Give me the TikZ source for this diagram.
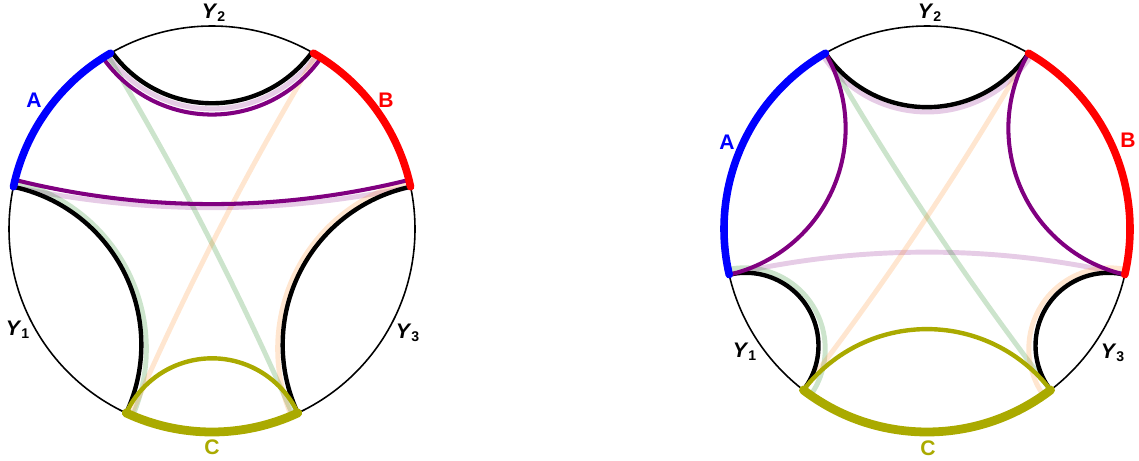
\documentclass[tikz,border=0pt]{standalone}
\usepackage{fontspec}
\setmainfont{Liberation Sans}

\definecolor{olivec}{RGB}{170,170,0}
\definecolor{purplec}{RGB}{128,0,128}
\definecolor{greenc}{RGB}{0,120,0}
\definecolor{orangec}{RGB}{255,130,20}

\def\Rd{4.06cm}
% arc of the disk centred at #2, from boundary angle #3 to #4 (#3<#4), leaving the chord at angle #5
\newcommand{\bgeo}[5][]{\draw[#1, shift={(#2)}] (#3:\Rd) arc[start angle={(#3+#4)/2+180+(#5)}, end angle={(#3+#4)/2+180-(#5)}, radius={\Rd*sin((#4-#3)/2)/sin(#5)}];}
% geodesic: meets the rim at right angles
\newcommand{\geo}[4][]{\bgeo[#1]{#2}{#3}{#4}{90-(#4-#3)/2}}
% boundary arc of the disk
\newcommand{\rimarc}[4][]{\draw[#1, shift={(#2)}] (#3:\Rd) arc[start angle=#3, end angle=#4, radius=\Rd];}

\begin{document}
\begin{tikzpicture}[
    every node/.style={font=\fontsize{12}{14}\selectfont\bfseries},
    rim/.style={line width=0.9pt},
    geod/.style={line width=2.5pt},
    pgeod/.style={line width=2.3pt, purplec},
    faint/.style={line width=2.8pt, draw opacity=0.2},
    thickarc/.style={line width=4.3pt, line cap=round},
]
    \useasboundingbox (0,0) rectangle (22.78,9.2);

    \coordinate (oL) at (4.24,4.62);
    \coordinate (oR) at (18.54,4.62);

    % left disk: faint curves
    \bgeo[faint, purplec]{oL}{59}{121}{54.5}
    \geo[faint, purplec]{oL}{12}{168}
    \geo[faint, greenc]{oL}{166.5}{247}
    \geo[faint, greenc]{oL}{121}{293.5}
    \geo[faint, orangec]{oL}{293}{373.5}
    \geo[faint, orangec]{oL}{246.5}{419}

    % left disk
    \draw[rim] (oL) circle[radius=\Rd];
    \bgeo[geod]{oL}{60.5}{119.5}{54}
    \geo[geod]{oL}{168}{245}
    \geo[geod]{oL}{295}{372}
    \bgeo[pgeod]{oL}{57.5}{122.5}{55}
    \geo[pgeod]{oL}{14}{166}
    \geo[geod, olivec]{oL}{245}{295}
    \rimarc[thickarc, blue]{oL}{120}{168}
    \rimarc[thickarc, red]{oL}{12}{60}
    \rimarc[thickarc, olivec, line width=5pt]{oL}{245}{295}

    \node (y2L) at (4.28,8.94) {\textit{Y}\textsubscript{2}};
    \node[blue] (aL) at (0.68,7.20) {A};
    \node[red] (bL) at (7.72,7.20) {B};
    \node (y1L) at (0.36,2.60) {\textit{Y}\textsubscript{1}};
    \node (y3L) at (8.16,2.54) {\textit{Y}\textsubscript{3}};
    \node[olivec] (cL) at (4.24,0.26) {C};

    % right disk: faint curves
    \bgeo[faint, purplec]{oR}{59}{121}{57.2}
    \geo[faint, purplec]{oR}{193}{347}
    \geo[faint, greenc]{oR}{191.5}{235}
    \geo[faint, greenc]{oR}{307.5}{480}
    \geo[faint, orangec]{oR}{305}{348.5}
    \geo[faint, orangec]{oR}{60}{232.5}

    % right disk
    \draw[rim] (oR) circle[radius=\Rd];
    \bgeo[geod]{oR}{60}{120}{56}
    \geo[geod]{oR}{193}{232.5}
    \geo[geod]{oR}{307.5}{347}
    \geo[pgeod]{oR}{120}{193}
    \geo[pgeod]{oR}{347}{420}
    \geo[geod, olivec]{oR}{232.5}{307.5}
    \rimarc[thickarc, blue]{oR}{120}{193}
    \rimarc[thickarc, red]{oR}{-13}{60}
    \rimarc[thickarc, olivec, line width=5pt]{oR}{232.5}{307.5}

    \node (y2R) at (18.60,8.94) {\textit{Y}\textsubscript{2}};
    \node[blue] (aR) at (14.54,6.36) {A};
    \node[red] (bR) at (22.56,6.40) {B};
    \node (y1R) at (14.90,2.16) {\textit{Y}\textsubscript{1}};
    \node (y3R) at (22.26,2.14) {\textit{Y}\textsubscript{3}};
    \node[olivec] (cR) at (18.56,0.24) {C};
\end{tikzpicture}
\end{document}
